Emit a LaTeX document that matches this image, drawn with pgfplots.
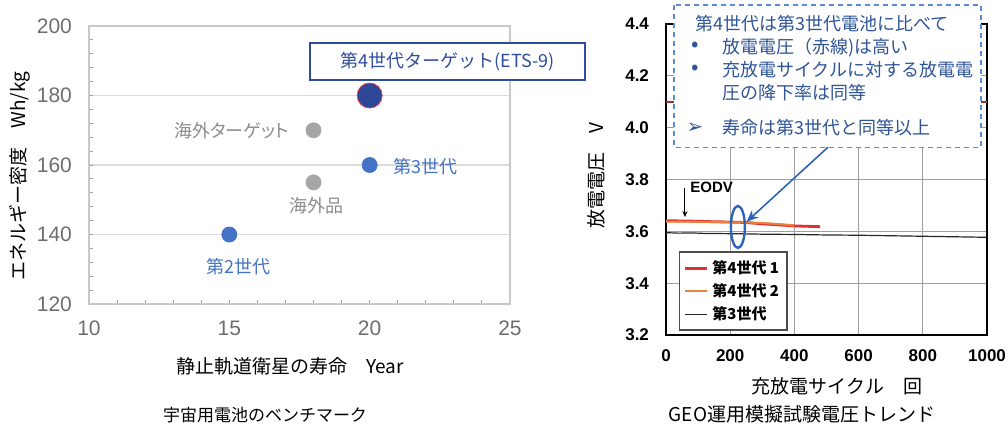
\documentclass[border=0pt]{standalone}
\usepackage{pgfplots}
\pgfplotsset{compat=1.18}
\usepackage{fontspec}
\usetikzlibrary{arrows.meta}
\setmainfont{Noto Sans CJK JP}
\newfontfamily\arial{Liberation Sans}
\newfontfamily\dejavu{DejaVu Sans}

\definecolor{axgray}{HTML}{C8C8C8}
\definecolor{gridgray}{HTML}{DCDCDC}
\definecolor{ticklbl}{HTML}{6E6E6E}
\definecolor{ptblue}{HTML}{4472C4}
\definecolor{ptgray}{HTML}{A6A6A6}
\definecolor{lblgray}{HTML}{8C8C8C}
\definecolor{bigblue}{HTML}{2E4799}
\definecolor{boxblue}{HTML}{2F4DA0}
\definecolor{annotext}{HTML}{2F5597}
\definecolor{dashblue}{HTML}{5B8BD0}
\definecolor{ellblue}{HTML}{2E64B8}
\definecolor{redline}{HTML}{E03030}
\definecolor{orangeline}{HTML}{E8823A}
\definecolor{limred}{HTML}{8B3A3A}

\newcommand\lbl{\fontsize{9}{11}\selectfont}
\newcommand\axl{\fontsize{9.5}{11}\selectfont}

\begin{document}
\begin{tikzpicture}
\path[use as bounding box] (0pt,0pt) rectangle (504pt,-212.5pt);

% left: benchmark scatter
\begin{axis}[
    at={(44.5pt,-152pt)}, anchor=south west,
    scale only axis, width=210.5pt, height=139pt,
    xmin=10, xmax=25, ymin=120, ymax=200,
    xtick={10,15,20,25}, ytick={120,140,160,180,200},
    minor x tick num=4, minor y tick num=4,
    tick pos=left, tick align=inside,
    major tick length=2pt, minor tick length=2pt,
    axis line style={color=axgray, line width=0.6pt},
    tick style={color=axgray!80!black, line width=0.5pt},
    ymajorgrids, major grid style={color=gridgray, line width=0.6pt},
    /pgf/number format/assume math mode=true,
    ticklabel style={font=\arial\fontsize{10.5}{12}\selectfont, text=ticklbl},
    xticklabel style={yshift=-5pt}, yticklabel style={xshift=-5pt},
    clip=false,
]
\addplot[only marks, mark=*, mark size=3.75pt, mark options={fill=ptblue, draw=ptblue}]
    coordinates {(15,140) (20,160)};
\addplot[only marks, mark=*, mark size=3.75pt, mark options={fill=ptgray, draw=ptgray}]
    coordinates {(18,155) (18,170)};
\addplot[only marks, mark=*, mark size=6.25pt, mark options={fill=bigblue, draw=red!80, line width=0.4pt}]
    coordinates {(20,180)};

\node[text=lblgray, font=\lbl\addfontfeature{RawFeature=+palt}] at (axis cs:15.08,170) {海外ターゲット};
\node[text=lblgray, font=\lbl] at (axis cs:18.11,148.2) {海外品};
\node[text=ptblue, font=\lbl] at (axis cs:22.0,159.5) {第3世代};
\node[text=ptblue, font=\lbl] at (axis cs:15.34,130.7) {第2世代};
\node[draw=boxblue, line width=0.7pt, fill=white, text=boxblue, font=\lbl,
      minimum width=137.5pt, minimum height=18.5pt, inner sep=0pt]
    at (axis cs:22.77,189.8) {第4世代ターゲット(ETS-9)};
\end{axis}

% right: GEO voltage trend
\begin{axis}[
    at={(333pt,-167.5pt)}, anchor=south west,
    scale only axis, width=160.5pt, height=155.5pt,
    xmin=0, xmax=1000, ymin=3.2, ymax=4.4,
    xtick={0,200,400,600,800,1000},
    ytick={3.2,3.4,3.6,3.8,4.0,4.2,4.4},
    grid=major, major grid style={color=gray!75, line width=0.5pt},
    axis line style={black, line width=1.2pt},
    major tick length=0pt,
    /pgf/number format/assume math mode=true,
    ticklabel style={font=\arial\bfseries\fontsize{8.5}{10}\selectfont},
    yticklabel style={/pgf/number format/fixed, /pgf/number format/fixed zerofill,
        /pgf/number format/precision=1, xshift=-5pt},
    xticklabel style={/pgf/number format/1000 sep={}, yshift=-4pt},
    clip=false,
    legend style={at={(0.04,0.013)}, anchor=south west, draw=gray!60!black,
        line width=0.8pt, font=\bfseries\fontsize{7.5}{9}\selectfont,
        inner xsep=2pt, inner ysep=2pt, row sep=-0.5pt},
    legend cell align=left,
    legend image code/.code={\draw[#1] (0pt,0pt) -- (11pt,0pt);},
]
\addplot[color=redline, line width=1.4pt] coordinates {
    (0,3.641) (50,3.640) (100,3.639) (150,3.637) (200,3.636) (250,3.634)
    (300,3.629) (350,3.625) (400,3.621) (450,3.619) (480,3.618)
};
\addplot[color=orangeline, line width=1.0pt] coordinates {
    (0,3.638) (100,3.637) (200,3.635) (250,3.634) (300,3.632)
    (350,3.628) (400,3.623)
};
\addplot[color=black!85, line width=0.6pt] coordinates {
    (0,3.595) (40,3.593) (80,3.594) (120,3.592) (200,3.591) (260,3.590)
    (300,3.589) (400,3.588) (500,3.586) (600,3.585) (700,3.583)
    (800,3.581) (900,3.579) (1000,3.577)
};
\addplot[color=limred, line width=0.8pt, forget plot] coordinates {(0,4.1) (1000,4.1)};
\legend{第4世代 1, 第4世代 2, 第3世代}

\node[font=\arial\bfseries\fontsize{7.5}{8}\selectfont] at (axis cs:142,3.768) {EODV};
\draw[-{Stealth[length=3pt,width=2.5pt]}, line width=0.5pt] (axis cs:59,3.768) -- (axis cs:59,3.655);
\draw[ellblue, line width=1.2pt] (axis cs:224,3.617) ellipse [x radius=3.5pt, y radius=10.5pt];

\draw[dashblue, line width=0.6pt, dash pattern=on 2.5pt off 2pt, fill=white]
    (axis cs:25,4.473) rectangle (axis cs:981,3.925);
\draw[ellblue, line width=0.8pt, -{Stealth[length=6pt,width=5pt]}]
    (axis cs:505,3.925) -- (axis cs:251,3.637);

\node[anchor=west, text=annotext, font=\lbl] at (axis cs:68.5,4.40) {第4世代は第3世代電池に比べて};
\node[text=annotext, font=\fontsize{11}{11}\selectfont] at (axis cs:90,4.311) {•};
\node[anchor=west, text=annotext, font=\lbl] at (axis cs:152.6,4.311) {放電電圧（赤線)は高い};
\node[text=annotext, font=\fontsize{11}{11}\selectfont] at (axis cs:90,4.222) {•};
\node[anchor=west, text=annotext, font=\lbl] at (axis cs:152.6,4.222) {充放電サイクルに対する放電電};
\node[anchor=west, text=annotext, font=\lbl] at (axis cs:152.6,4.134) {圧の降下率は同等};
\node[text=annotext, font=\dejavu\fontsize{10}{10}\selectfont] at (axis cs:90,3.999) {➢};
\node[anchor=west, text=annotext, font=\lbl] at (axis cs:152.6,3.999) {寿命は第3世代と同等以上};
\end{axis}

% axis titles and captions
\begin{scope}[x=0.5pt, y=-0.5pt]
\node[rotate=90, font=\axl] at (20,176) {エネルギー密度　Wh/kg};
\node[font=\axl] at (290,366) {静止軌道衛星の寿命　Year};
\node[font=\fontsize{8.5}{10}\selectfont] at (265,415) {宇宙用電池のベンチマーク};
\node[rotate=90, font=\axl] at (596,176) {放電電圧　V};
\node[font=\axl] at (837,386) {充放電サイクル　回};
\node[font=\fontsize{9.5}{10}\selectfont] at (802,414) {GEO運用模擬試験電圧トレンド};
\end{scope}
\end{tikzpicture}
\end{document}
